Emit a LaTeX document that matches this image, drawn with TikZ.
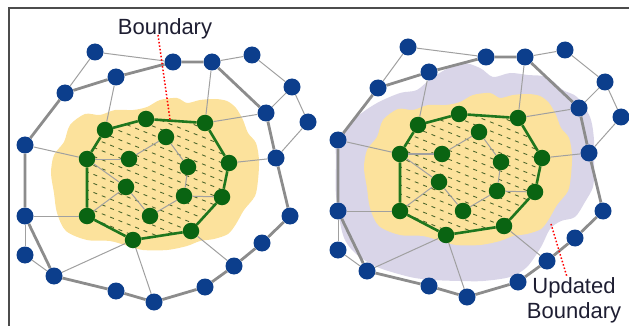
\documentclass[tikz,border=0pt]{standalone}
\usepackage{fontspec}
\setmainfont{Liberation Sans}
\usetikzlibrary{calc, backgrounds}

\definecolor{nodeblue}{RGB}{12,62,140}
\definecolor{nodegreen}{RGB}{10,100,18}
\definecolor{edgegreen}{RGB}{30,118,30}
\definecolor{ringgray}{RGB}{140,140,140}
\definecolor{linkgray}{RGB}{160,160,160}
\definecolor{cloudyellow}{RGB}{252,226,156}
\definecolor{cloudlilac}{RGB}{217,213,232}
\definecolor{hatchgreen}{RGB}{80,105,45}
\definecolor{labeltext}{RGB}{30,30,50}

\begin{document}
\begin{tikzpicture}[
    x=1pt, y=-1pt,
    bnode/.style = {circle, fill=nodeblue, minimum size=17pt, inner sep=0pt},
    gnode/.style = {circle, fill=nodegreen, minimum size=16.5pt, inner sep=0pt},
    link/.style = {draw=linkgray, line width=1pt},
    ring/.style = {draw=ringgray, line width=2.8pt},
    bound/.style = {draw=edgegreen, line width=2.6pt, line join=round},
    hatch/.style = {draw=hatchgreen, line width=0.9pt, dash pattern=on 4pt off 5pt},
    pointer/.style = {draw=red, dotted, line width=1.5pt},
    lbl/.style = {font=\fontsize{22}{25}\selectfont, text=labeltext, inner sep=0pt}
]
    \useasboundingbox (0,0) rectangle (629,326);

    % Frame
    \draw [black!70, line width=1.3pt] (9,326) -- (9,8) -- (629,8);

    % Updated area (right panel only)
    \begin{scope}[on background layer, shift={(313,-5)}]
        \fill [cloudlilac] plot [smooth cycle] coordinates {
            (24,145) (44,122) (64,108) (87,98) (104,95) (120,82) (147,68) (167,73)
            (180,82) (197,78) (215,80) (234,82) (250,95) (264,102) (277,122) (281,145)
            (281,175) (280,192) (272,207) (262,222) (248,226) (237,234) (228,252) (214,272)
            (197,282) (170,286) (147,286) (120,285) (97,282) (64,272) (42,258) (30,240)
            (23,200) (23,165)};
    \end{scope}

    % Both panels: same graph, right one shifted
    \foreach \pp/\sx/\sy in {L/0/0, R/313/-5} {
    \begin{scope}[shift={(\sx,\sy)}]
        % Nodes - outer (blue)
        \foreach \n/\xx/\yy in {b1/95/52, b2/173/62, b3/212/62, b4/252/55, b5/116/77,
            b6/65/93, b7/292/87, b8/266/113, b9/308/122, b10/25/145, b11/276/158,
            b12/25/216, b13/290/216, b14/25/255, b15/262/243, b16/234/266,
            b17/54/276, b18/205/287, b19/116/291, b20/154/302}
            \node [bnode] (\pp\n) at (\xx,\yy) {};
        % Nodes - inner (green)
        \foreach \n/\xx/\yy in {g1/146/119, g2/205/123, g3/105/130, g4/166/137,
            g5/87/159, g6/129/159, g7/229/163, g8/188/167, g9/126/187, g10/184/196,
            g11/222/197, g12/87/216, g13/150/216, g14/191/231, g15/133/240}
            \node [gnode] (\pp\n) at (\xx,\yy) {};

        % Cloud and hatched region
        \begin{scope}[on background layer]
            \fill [cloudyellow] plot [smooth cycle] coordinates {
                (147,107) (160,100) (177,98) (187,103) (200,100) (215,99) (227,101)
                (236,108) (243,120) (248,133) (256,143) (259,160) (258,180) (255,196)
                (244,210) (236,224) (228,234) (214,239) (200,241) (187,246) (167,250)
                (143,250) (128,246) (110,241) (87,240) (66,231) (57,213) (54,193)
                (51,173) (54,155) (64,142) (70,125) (85,114) (100,115) (115,110) (133,110)};
            \begin{scope}
                \clip (\pp g5.center) -- (\pp g3.center) -- (\pp g1.center) -- (\pp g2.center)
                    -- (\pp g7.center) -- (\pp g11.center) -- (\pp g14.center)
                    -- (\pp g15.center) -- (\pp g12.center) -- cycle;
                \foreach \k in {0,...,24}
                    \draw [hatch] (60,8+9*\k) -- ++(220,88);
            \end{scope}
        \end{scope}

        % Edges - outer ring
        \draw [ring] (\pp b10) -- (\pp b6) -- (\pp b5) -- (\pp b2) -- (\pp b3) -- (\pp b8)
            -- (\pp b11) -- (\pp b13) -- (\pp b15) -- (\pp b16) -- (\pp b18) -- (\pp b20)
            -- (\pp b19) -- (\pp b17) -- (\pp b12) -- (\pp b10);
        % Edges - thin links
        \foreach \a/\b in {b1/b6, b1/b2, b3/b4, b4/b7, b7/b8, b7/b9, b9/b11, b12/b14,
            b14/b17, g3/b5, g2/b3, g2/b8, g7/b11, g5/b10, g12/b12, g15/b17, g15/b20,
            g14/b16, g5/g6, g6/g4, g4/g8, g8/g10, g10/g11, g10/g13, g13/g9, g9/g12, g9/g5}
            \draw [link] (\pp\a) -- (\pp\b);
        % Edges - boundary
        \draw [bound] (\pp g5) -- (\pp g3) -- (\pp g1) -- (\pp g2) -- (\pp g7) -- (\pp g11)
            -- (\pp g14) -- (\pp g15) -- (\pp g12) -- (\pp g5);
    \end{scope}
    }

    % Labels
    \node [lbl, anchor=base] (blabel) at (165,35) {Boundary};
    \node [lbl, align=center, anchor=north] (ulabel) at (574,277) {Updated\\Boundary};
    \coordinate (uedge) at (551,224);

    % Pointers
    \draw [pointer] ([xshift=-7pt]blabel.base) -- ($(Lg1)!0.41!(Lg2)$);
    \draw [pointer] (uedge) -- ([xshift=-7pt]ulabel.north);

\end{tikzpicture}
\end{document}
